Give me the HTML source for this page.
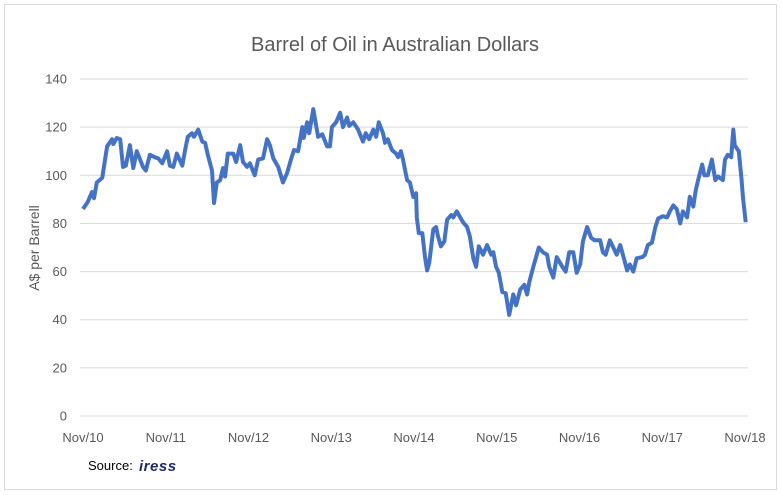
<!DOCTYPE html>
<html><head><meta charset="utf-8"><style>
body{margin:0;background:#fff;font-family:"Liberation Sans",sans-serif;}
svg{display:block}
</style></head><body>
<svg id="chart" width="782" height="495">
<rect x="4.5" y="4.5" width="772" height="485" fill="#fff" stroke="#d9d9d9"/>
<text x="395" y="51" text-anchor="middle" font-size="20" fill="#595959">Barrel of Oil in Australian Dollars</text>
<text transform="translate(39,248) rotate(-90)" text-anchor="middle" font-size="14" fill="#595959">A$ per Barrell</text>
<g id="grid"></g><g id="yt"></g><g id="xt"></g>
<path id="line" fill="none" stroke="#4472c4" stroke-width="4" stroke-linejoin="round"/>
<text x="88" y="470" font-size="13" fill="#000">Source:</text>
<text x="139" y="471" font-size="15" font-weight="bold" font-style="italic" fill="#1f2a6b" letter-spacing="0.5">iress</text>
</svg>
<script>
const months=[0,0.7,1.3,1.6,2.0,2.8,2.9,3.5,4.2,4.4,4.9,5.4,5.8,6.2,6.8,7.3,7.8,8.7,9.1,9.7,10.4,10.9,11.5,12.2,12.6,13.1,13.6,14.4,14.8,15.2,15.8,16.1,16.7,17.3,17.7,18.1,18.7,19.0,19.4,19.9,20.3,20.6,21.0,21.8,22.2,22.8,23.2,23.8,24.2,24.9,25.4,26.1,26.7,27.1,27.6,28.3,29.0,29.6,30.2,30.6,31.2,31.8,32.0,32.5,32.8,33.4,33.6,34.1,34.7,35.4,35.8,36.1,36.7,37.3,37.7,38.3,38.6,39.2,39.9,40.6,41.0,41.5,42.1,42.5,42.9,43.5,43.8,44.2,44.8,45.4,45.7,46.1,46.4,47.0,47.4,47.9,48.3,48.4,48.7,49.2,49.6,49.9,50.2,50.8,51.2,51.5,51.9,52.4,52.8,53.4,53.7,54.2,54.7,55.1,55.7,56.1,56.6,57.0,57.4,58.0,58.6,59.2,59.5,59.9,60.3,60.8,61.3,61.8,62.4,62.8,63.4,64.0,64.4,64.7,65.3,65.7,66.1,66.7,67.3,67.6,68.2,68.7,69.5,70.0,70.5,71.1,71.6,72.1,72.5,73.1,73.7,74.2,75.0,75.4,75.8,76.4,76.9,77.4,77.9,78.3,78.9,79.3,79.8,80.3,81.1,81.5,81.9,82.5,83.0,83.4,84.1,84.7,85.1,85.6,86.1,86.6,87.0,87.6,88.0,88.5,88.8,89.2,89.8,90.1,90.6,91.2,91.7,92.1,92.8,93.1,93.5,94.0,94.3,94.5,95.1,95.5,95.7,96.1];
const prices=[86,89,93,90.5,97,99,101,112,115,113,115.5,115,103.5,104,112.5,103,110,103.5,102,108.5,107.5,107,105,110,104,103.5,109,104,110.5,116,117.5,116,119,114,113.5,108.5,102,88.5,97,98,103,99.5,109,109,105.5,112.5,105.5,103.5,105,100,106.5,107,115,112.5,107,103.5,97,101,107,110.5,110,120,115.5,122,117.5,127.5,124,116,117,112,112,120,122,126,120,124,120.5,122,119,114,117.5,115,119,116,122,117.5,113.5,115,110.5,109,107.5,110,106.5,98,97,91,92.5,82.5,76,76,66,60.5,63.5,77.5,78.5,74.5,70.5,72.5,81.5,83.5,82.5,85,82.5,80.5,78.5,74.5,65.5,62,70.5,67,71,67,68,62,59.5,51.5,51,42,50.5,46,52.5,54.5,50.5,55.5,62,66,70,68,67,62,57.5,66,62,60,68,68,59.5,63,72.5,78.5,74,73,73,68,67,73,70,67,71,67,60.5,63,60,65.5,66,67,71,72,78.5,82,83,82.5,85,87.5,86,80,85,82.5,91,87,93,98,104.5,100,100,106.5,98,99.5,98,106.5,108.5,107.5,119,112.5,110,98,91,80.5];
const yTicks=[0,20,40,60,80,100,120,140];
const xLabels=["Nov/10","Nov/11","Nov/12","Nov/13","Nov/14","Nov/15","Nov/16","Nov/17","Nov/18"];
const NS="http://www.w3.org/2000/svg";
const x=m=>83+m*(745-83)/96;
const y=v=>416-v*(416-79)/140;
const grid=document.getElementById('grid'),yt=document.getElementById('yt'),xt=document.getElementById('xt');
yTicks.forEach(v=>{
  const l=document.createElementNS(NS,'line');
  l.setAttribute('x1',80);l.setAttribute('x2',748);l.setAttribute('y1',y(v));l.setAttribute('y2',y(v));
  l.setAttribute('stroke','#d9d9d9');l.setAttribute('stroke-width','1');
  
  
  grid.appendChild(l);
  const t=document.createElementNS(NS,'text');
  t.setAttribute('x',67);t.setAttribute('y',y(v)+4.5);t.setAttribute('text-anchor','end');
  t.setAttribute('font-size','13');t.setAttribute('fill','#595959');t.textContent=v;
  
  
  yt.appendChild(t);
});
xLabels.forEach((s,i)=>{
  const t=document.createElementNS(NS,'text');
  t.setAttribute('x',x(i*12));t.setAttribute('y',442);t.setAttribute('text-anchor','middle');
  t.setAttribute('font-size','13');t.setAttribute('fill','#595959');t.textContent=s;
  
  
  xt.appendChild(t);
});
document.getElementById('line').setAttribute('d',months.map((m,i)=>(i?'L':'M')+x(m).toFixed(1)+' '+y(prices[i]).toFixed(1)).join(' '));
</script>
</body></html>
